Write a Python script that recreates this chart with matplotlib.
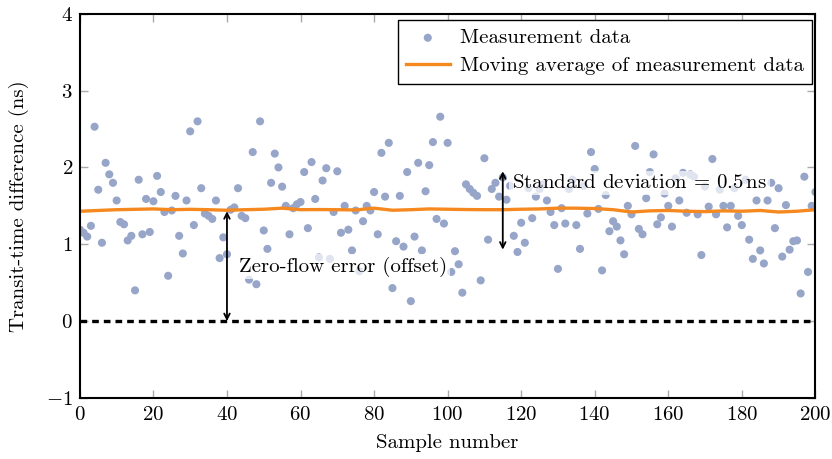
import numpy as np
import matplotlib
matplotlib.use("Agg")
import matplotlib.pyplot as plt

plt.rcParams['font.family'] = 'serif'
plt.rcParams['font.serif'] = ['cmr10']
plt.rcParams['mathtext.fontset'] = 'cm'
plt.rcParams['axes.formatter.use_mathtext'] = True

# ---- data ----
measurement = [
    1.19, 1.15, 1.10, 1.24, 2.53, 1.71, 1.02, 2.06, 1.91, 1.80,
    1.57, 1.29, 1.26, 1.05, 1.11, 0.40, 1.84, 1.13, 1.59, 1.16,
    1.56, 1.89, 1.68, 1.42, 0.59, 1.44, 1.63, 1.11, 0.88, 1.57,
    2.47, 1.25, 2.60, 1.73, 1.40, 1.37, 1.33, 1.57, 0.82, 1.09,
    0.87, 1.45, 1.48, 1.73, 1.37, 1.34, 0.54, 2.20, 0.48, 2.60,
    1.18, 0.94, 1.80, 2.18, 2.00, 1.75, 1.50, 1.13, 1.47, 1.52,
    1.55, 1.94, 1.21, 2.07, 1.59, 0.83, 1.83, 1.99, 0.81, 1.42,
    1.95, 1.15, 1.50, 1.19, 0.92, 1.44, 0.65, 1.30, 1.50, 1.44,
    1.68, 1.13, 2.19, 1.62, 2.32, 0.43, 1.04, 1.63, 0.97, 1.94,
    0.26, 1.10, 2.06, 0.92, 1.69, 2.03, 2.33, 1.33, 2.66, 1.27,
    2.32, 0.64, 0.91, 0.74, 0.37, 1.78, 1.72, 1.67, 1.63, 0.53,
    2.12, 1.06, 1.72, 1.80, 1.62, 1.87, 1.58, 1.76, 1.11, 0.90,
    1.28, 1.02, 1.73, 1.34, 1.62, 1.72, 1.78, 1.57, 1.42, 1.25,
    0.68, 1.47, 1.27, 1.72, 1.84, 1.25, 0.94, 1.76, 1.40, 2.20,
    1.98, 1.46, 0.66, 1.64, 1.17, 1.30, 1.23, 1.05, 0.87, 1.50,
    1.39, 2.28, 1.20, 1.13, 1.60, 1.94, 2.17, 1.26, 1.35, 1.66,
    1.50, 1.23, 1.86, 1.57, 1.93, 1.41, 1.91, 1.88, 1.39, 0.86,
    1.75, 1.49, 2.11, 1.39, 1.71, 1.50, 1.22, 1.50, 1.73, 1.37,
    1.25, 1.84, 1.06, 0.81, 1.57, 0.92, 0.75, 1.57, 1.80, 1.21,
    1.73, 0.84, 1.51, 0.93, 1.04, 1.05, 0.36, 1.88, 0.64, 1.50,
    1.68,
]
samples = list(range(len(measurement)))

ma_samples = list(range(0, 201, 5))
moving_average = [
    1.43, 1.44, 1.45, 1.455, 1.46, 1.45, 1.455, 1.45, 1.443, 1.45,
    1.456, 1.47, 1.45, 1.452, 1.45, 1.447, 1.47, 1.443, 1.45, 1.46,
    1.456, 1.452, 1.45, 1.45, 1.456, 1.46, 1.47, 1.47, 1.465, 1.45,
    1.42, 1.435, 1.44, 1.43, 1.425, 1.435, 1.43, 1.44, 1.42, 1.43,
    1.45,
]

offset_value = 1.43
std_low, std_high = 0.93, 1.95

x_ticks = [0, 20, 40, 60, 80, 100, 120, 140, 160, 180, 200]
y_ticks = [-1, 0, 1, 2, 3, 4]

FS = 15

# ---- plot ----
fig = plt.figure(figsize=(8.32, 4.59), dpi=100)
ax = fig.add_axes([0.096, 0.133, 0.884, 0.837])

ax.scatter(samples, measurement, s=34, color='#97a5c9', edgecolors='none',
           label='Measurement data', zorder=2, clip_on=True)
ax.plot(ma_samples, moving_average, color='#f5891f', lw=2.4,
        label='Moving average of measurement data', zorder=3)
ax.axhline(0, color='black', lw=2.4, ls=(0, (2.0, 1.5)), zorder=3)

ax.annotate('', xy=(40, 0), xytext=(40, offset_value),
            arrowprops=dict(arrowstyle='<->', color='black', lw=1.3,
                            shrinkA=0, shrinkB=0), zorder=5)
ax.text(43.2, 0.71, 'Zero-flow error (offset)', fontsize=FS, va='center',
        ha='left', zorder=4,
        bbox=dict(facecolor='white', alpha=0.7, edgecolor='none', pad=2))

ax.annotate('', xy=(115, std_low), xytext=(115, std_high),
            arrowprops=dict(arrowstyle='<->', color='black', lw=1.3,
                            shrinkA=0, shrinkB=0), zorder=5)
ax.text(117.5, 1.80, r'Standard deviation = 0.5$\,$ns', fontsize=FS,
        va='center', ha='left', zorder=4,
        bbox=dict(facecolor='white', alpha=0.7, edgecolor='none', pad=2))

ax.set_xlim(0, 200)
ax.set_ylim(-1, 4)
ax.set_xticks(x_ticks)
ax.set_yticks(y_ticks)
ax.tick_params(direction='in', length=6, width=1, color='#aaaaaa',
               top=True, right=True, labelsize=FS)
ax.tick_params(axis='x', pad=6)
ax.tick_params(axis='y', pad=5)
for sp in ax.spines.values():
    sp.set_linewidth(1.5)
    sp.set_zorder(6)

ax.set_xlabel('Sample number', fontsize=FS, labelpad=7)
ax.set_ylabel('Transit-time difference (ns)', fontsize=FS, labelpad=12)

leg = ax.legend(loc='upper right', fontsize=FS, frameon=True, fancybox=False,
                edgecolor='black', framealpha=1, borderpad=0.4,
                handlelength=2.1, handletextpad=0.5, labelspacing=0.45,
                borderaxespad=0, scatterpoints=1,
                bbox_to_anchor=(0.996, 0.983))
leg.get_frame().set_linewidth(1.0)

fig.savefig('out.png', dpi=100)
